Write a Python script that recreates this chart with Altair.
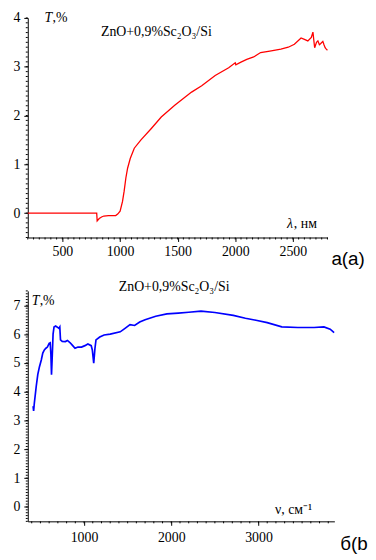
import altair as alt
import pandas as pd

# ---- panel (a): transmission vs wavelength ----
lam = [200, 400, 600, 798, 802, 820, 840, 860, 900, 940, 963, 980, 1001, 1022, 1036,
       1051, 1066, 1089, 1124, 1182, 1270, 1358, 1475, 1621, 1709, 1826, 1943, 2000,
       2005, 2045, 2100, 2160, 2220, 2300, 2396, 2460, 2513, 2571, 2600, 2630, 2660,
       2674, 2689, 2705, 2717, 2730, 2740, 2760, 2770, 2780, 2790, 2800]
t_a = [0.0, 0.0, 0.0, 0.0, -0.16, -0.11, -0.08, -0.06, -0.05, -0.05, -0.05, -0.02, 0.04,
       0.24, 0.45, 0.72, 0.92, 1.12, 1.33, 1.50, 1.73, 1.97, 2.21, 2.48, 2.61, 2.82, 2.98,
       3.08, 3.04, 3.09, 3.15, 3.20, 3.29, 3.32, 3.36, 3.40, 3.46, 3.59, 3.56, 3.53, 3.60,
       3.71, 3.39, 3.50, 3.53, 3.45, 3.47, 3.52, 3.45, 3.39, 3.36, 3.34]

# ---- panel (b): transmission vs wavenumber ----
nu = [416, 422, 430, 452, 470, 489, 510, 527, 545, 563, 580, 600, 612, 620, 627, 635,
      645, 656, 674, 690, 711, 722, 730, 750, 786, 810, 841, 870, 897, 930, 971, 1010,
      1044, 1082, 1095, 1111, 1125, 1137, 1180, 1230, 1300, 1415, 1470, 1527, 1580,
      1638, 1700, 1822, 1950, 2081, 2200, 2341, 2500, 2711, 2850, 2971, 3100, 3267,
      3452, 3637, 3750, 3822, 3867]
t_b = [3.50, 3.33, 3.60, 4.19, 4.60, 4.87, 5.10, 5.34, 5.45, 5.51, 5.55, 5.68, 5.70,
       5.30, 4.59, 5.20, 6.00, 6.25, 6.28, 6.25, 6.20, 6.25, 5.80, 5.75, 5.74, 5.78,
       5.70, 5.60, 5.51, 5.55, 5.55, 5.60, 5.66, 5.60, 5.45, 4.99, 5.50, 5.80, 5.90,
       5.97, 6.00, 6.08, 6.20, 6.33, 6.30, 6.42, 6.50, 6.62, 6.70, 6.73, 6.76, 6.80,
       6.75, 6.65, 6.55, 6.48, 6.40, 6.25, 6.23, 6.23, 6.25, 6.17, 6.05]

# tick values (major labelled, minor unlabelled)
xmajor_a = [500, 1000, 1500, 2000, 2500]
xminor_a = list(range(200, 2801, 50))
ymajor_a = [0, 1, 2, 3, 4]
yminor_a = [round(-0.5 + 0.1 * i, 1) for i in range(46)]
xmajor_b = [1000, 2000, 3000]
xminor_b = list(range(400, 3801, 100))
ymajor_b = [0, 1, 2, 3, 4, 5, 6, 7]
yminor_b = [round(-0.5 + 0.1 * i, 1) for i in range(81)]

SERIF = "Liberation Serif"
SANS = "Liberation Sans"

W_A, H_A = 303, 222
W_B, H_B = 310, 233


def label(text, x, y, font=SERIF, size=14, style="normal", align="left", **kw):
    return alt.Chart(pd.DataFrame({"s": [text]})).mark_text(
        align=align, baseline="middle", font=font, fontSize=size, fontStyle=style,
        color="black", **kw
    ).encode(text="s:N", x=alt.value(x), y=alt.value(y))


def axis(values, pad, min_extent=None):
    kw = dict(
        values=values, format="d", tickSize=4, grid=False, title=None,
        labelFont=SERIF, labelFontSize=14, labelColor="black",
        domainColor="black", tickColor="black", labelPadding=pad,
        labelFlush=False, labelOverlap=False,
    )
    if min_extent is not None:
        kw["minExtent"] = min_extent
    return alt.Axis(**kw)


def scale(domain):
    return alt.Scale(domain=domain, nice=False, zero=False, padding=0)


dom_xa, dom_ya = [200, 2800], [-0.5, 4]
ax_xa, ax_ya = axis(xmajor_a, 3), axis(ymajor_a, 4, 20)
sc_xa, sc_ya = scale(dom_xa), scale(dom_ya)

dom_xb, dom_yb = [355, 3870], [-0.5, 7.5]
ax_xb, ax_yb = axis(xmajor_b, 5), axis(ymajor_b, 4, 20)
sc_xb, sc_yb = scale(dom_xb), scale(dom_yb)


def minor_x(values, sc, ax, h):
    return alt.Chart(pd.DataFrame({"v": values})).mark_rule(
        color="black", strokeWidth=1
    ).encode(
        x=alt.X("v:Q", scale=sc, axis=ax),
        y=alt.value(h), y2=alt.value(h + 2),
    )


def minor_y(values, sc, ax):
    return alt.Chart(pd.DataFrame({"v": values})).mark_rule(
        color="black", strokeWidth=1
    ).encode(
        y=alt.Y("v:Q", scale=sc, axis=ax),
        x=alt.value(0), x2=alt.value(-2),
    )


df_a = pd.DataFrame({"lam": lam, "T": t_a})
line_a = alt.Chart(df_a).mark_line(color="#ff0000", strokeWidth=1.3).encode(
    x=alt.X("lam:Q", scale=sc_xa, axis=ax_xa),
    y=alt.Y("T:Q", scale=sc_ya, axis=ax_ya),
)

top = alt.layer(
    line_a,
    minor_x(xminor_a, sc_xa, ax_xa, H_A),
    minor_y(yminor_a, sc_ya, ax_ya),
    label("T", 17, 0, style="italic"),
    label(",%", 25, 0),
    label("ZnO+0,9%Sc₂O₃/Si", 74, 14),
    label("λ", 262, 208, style="italic"),
    label(", нм", 269, 208),
    label("а(а)", 307, 244, font=SANS, size=19),
).properties(width=W_A, height=H_A)

df_b = pd.DataFrame({"nu": nu, "T": t_b})
line_b = alt.Chart(df_b).mark_line(color="#0000ff", strokeWidth=1.7).encode(
    x=alt.X("nu:Q", scale=sc_xb, axis=ax_xb),
    y=alt.Y("T:Q", scale=sc_yb, axis=ax_yb),
)

bottom = alt.layer(
    line_b,
    minor_x(xminor_b, sc_xb, ax_xb, H_B),
    minor_y(yminor_b, sc_yb, ax_yb),
    label("ZnO+0,9%Sc₂O₃/Si", 92, -4),
    label("T", 4, 10, style="italic"),
    label(",%", 12, 10),
    label("ν, см⁻¹", 250, 222),
    label("б(b", 316, 256, font=SANS, size=19),
).properties(width=W_B, height=H_B)

chart = alt.vconcat(top, bottom, spacing=11).properties(padding=0).configure_view(
    stroke=None
).configure_axis(labelFont=SERIF)

chart.save("out.html", embed_options={"renderer": "svg", "actions": False})
